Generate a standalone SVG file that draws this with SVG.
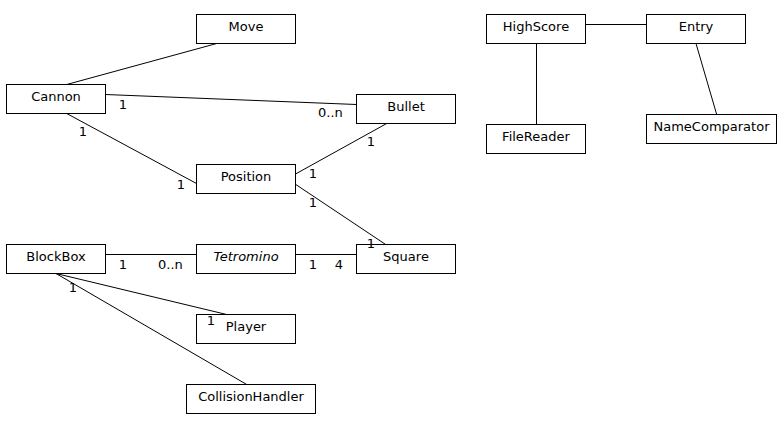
<svg xmlns="http://www.w3.org/2000/svg" width="784" height="427" viewBox="0 0 784 427">
<style>
rect{fill:#fff;stroke:#000;stroke-width:1}
text{font-family:"DejaVu Sans",sans-serif;font-size:13px;fill:#000}
.n{text-anchor:middle}
.it{font-style:italic}
#connectors line{stroke:#000;stroke-width:1}
</style>
<rect x="0" y="0" width="784" height="427" style="stroke:none"/>
<g id="connectors">
<line x1="216.7" y1="43.5" x2="66.7" y2="84.5"/>
<line x1="105.5" y1="94.5" x2="356.5" y2="104.5"/>
<line x1="66.7" y1="113.5" x2="196.5" y2="183.5"/>
<line x1="295.5" y1="174" x2="386.7" y2="123.5"/>
<line x1="295.5" y1="184.3" x2="385.7" y2="244.5"/>
<line x1="105.5" y1="254.5" x2="196.5" y2="254.5"/>
<line x1="295.5" y1="254.5" x2="356.5" y2="254.5"/>
<line x1="56" y1="273.5" x2="226.7" y2="314.5"/>
<line x1="56" y1="273.5" x2="246.7" y2="384.5"/>
<line x1="585.5" y1="24.5" x2="646.5" y2="24.5"/>
<line x1="536.5" y1="43.5" x2="536.5" y2="124.5"/>
<line x1="696" y1="43.5" x2="716.7" y2="114.5"/>
</g>
<g id="move"><rect x="196.5" y="14.5" width="99" height="29"/><text x="246" y="31" class="n">Move</text></g>
<g id="cannon"><rect x="6.5" y="84.5" width="99" height="29"/><text x="56" y="101" class="n">Cannon</text></g>
<g id="bullet"><rect x="356.5" y="94.5" width="99" height="29"/><text x="406" y="111" class="n">Bullet</text></g>
<g id="position"><rect x="196.5" y="164.5" width="99" height="29"/><text x="246" y="181" class="n">Position</text></g>
<g id="blockbox"><rect x="6.5" y="244.5" width="99" height="29"/><text x="56" y="261" class="n">BlockBox</text></g>
<g id="tetromino"><rect x="196.5" y="244.5" width="99" height="29"/><text x="246" y="261" class="n it">Tetromino</text></g>
<g id="square"><rect x="356.5" y="244.5" width="99" height="29"/><text x="406" y="261" class="n">Square</text></g>
<g id="player"><rect x="196.5" y="314.5" width="99" height="29"/><text x="246" y="331" class="n">Player</text></g>
<g id="collisionhandler"><rect x="186.5" y="384.5" width="129" height="29"/><text x="251" y="401" class="n">CollisionHandler</text></g>
<g id="highscore"><rect x="486.5" y="14.5" width="99" height="29"/><text x="536" y="31" class="n">HighScore</text></g>
<g id="entry"><rect x="646.5" y="14.5" width="99" height="29"/><text x="696" y="31" class="n">Entry</text></g>
<g id="filereader"><rect x="486.5" y="124.5" width="99" height="29"/><text x="536" y="141" class="n">FileReader</text></g>
<g id="namecomparator"><rect x="646.5" y="114.5" width="130" height="29"/><text x="711.5" y="131" class="n">NameComparator</text></g>
<g id="connector-labels">
<text x="123" y="109" class="n">1</text>
<text x="318" y="117">0..n</text>
<text x="83" y="136" class="n">1</text>
<text x="181" y="189" class="n">1</text>
<text x="371" y="146" class="n">1</text>
<text x="313" y="178" class="n">1</text>
<text x="313" y="207" class="n">1</text>
<text x="371" y="248" class="n">1</text>
<text x="123" y="268.5" class="n">1</text>
<text x="158" y="268.5">0..n</text>
<text x="313" y="268.5" class="n">1</text>
<text x="339" y="268.5" class="n">4</text>
<text x="73" y="292" class="n">1</text>
<text x="211" y="324.5" class="n">1</text>
</g>
</svg>
